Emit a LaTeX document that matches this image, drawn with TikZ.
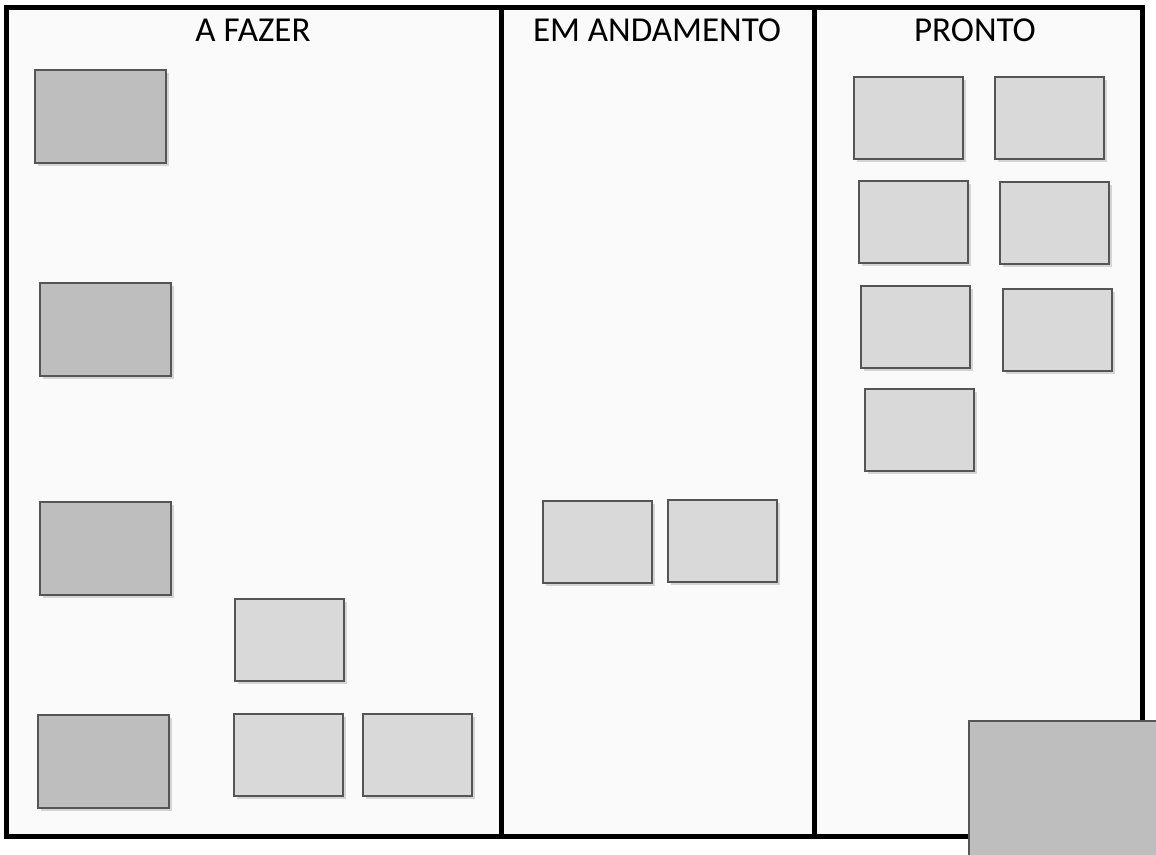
\documentclass[tikz,border=0pt]{standalone}
\usepackage{fontspec}
\setmainfont{Carlito}
\usetikzlibrary{shadows}
\definecolor{quadro}{HTML}{FAFAFA}
\definecolor{escuro}{HTML}{BEBEBE}
\definecolor{claro}{HTML}{D9D9D9}
\definecolor{borda}{HTML}{555555}
\tikzset{
  cartao/.style  = {rectangle, draw=borda, line width=1.6pt, anchor=north west, inner sep=0,
                    drop shadow={opacity=0.3, shadow xshift=3pt, shadow yshift=-3pt}},
  tarefa/.style  = {cartao, fill=escuro, minimum width=131pt, minimum height=93pt},
  feita/.style   = {cartao, fill=claro, minimum width=109pt, minimum height=82pt},
  titulo/.style  = {font=\fontsize{35}{42}\selectfont},
  moldura/.style = {line width=5pt, draw=black}
}

\begin{document}
\begin{tikzpicture}[x=1pt, y=-1pt]
  \useasboundingbox (0,0) rectangle (1156,854);
  % quadro com tres colunas
  \fill[quadro] (6,7) rectangle (1142,836);
  \draw[moldura] (501,7) -- (501,836);
  \draw[moldura] (814,7) -- (814,836);
  \draw[moldura] (6,7) rectangle (1142,836);
  \node[titulo] (tA) at (253,30) {A FAZER};
  \node[titulo] (tE) at (657,30) {EM ANDAMENTO};
  \node[titulo] (tP) at (975,30) {PRONTO};
  % a fazer
  \node[tarefa] (a1) at (34,69) {};
  \node[tarefa] (a2) at (39,282) {};
  \node[tarefa] (a3) at (39,501) {};
  \node[tarefa] (a4) at (37,714) {};
  \node[feita] (a5) at (234,598) {};
  \node[feita] (a6) at (233,713) {};
  \node[feita] (a7) at (362,713) {};
  % em andamento
  \node[feita] (e1) at (542,500) {};
  \node[feita] (e2) at (667,499) {};
  % pronto
  \node[feita] (p1) at (853,76) {};
  \node[feita] (p2) at (994,76) {};
  \node[feita] (p3) at (858,180) {};
  \node[feita] (p4) at (999,181) {};
  \node[feita] (p5) at (860,285) {};
  \node[feita] (p6) at (1002,288) {};
  \node[feita] (p7) at (864,388) {};
  \node[cartao, fill=escuro, drop shadow={opacity=0}, minimum width=190pt, minimum height=136pt] (p8) at (968,720) {};
\end{tikzpicture}
\end{document}
